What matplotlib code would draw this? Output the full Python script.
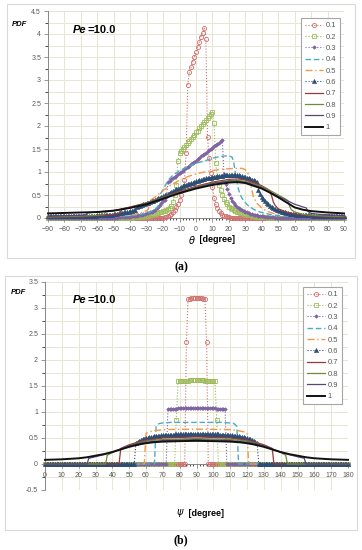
import numpy as np
import matplotlib.pyplot as plt
from matplotlib.patches import Rectangle
from matplotlib.ticker import MultipleLocator, FuncFormatter

plt.rcParams['font.family'] = ['Liberation Sans', 'DejaVu Sans']

labels = ['0.1', '0.2', '0.3', '0.4', '0.5', '0.6', '0.7', '0.8', '0.9', '1']

# ---------------- panel (a): theta ----------------
theta = np.arange(-90, 91, 1)

a01_start = -21
a01 = [0.01, 0.01, 0.02, 0.03, 0.04, 0.06, 0.08, 0.12, 0.17, 0.24, 0.31, 0.4, 0.5, 0.66, 0.83,
       1.42, 2.9, 3.18, 3.28, 3.4, 3.5, 3.6, 3.72, 3.82, 3.94, 4.03, 4.12, 3.9, 1.77, 1.3, 0.97,
       0.68, 0.43, 0.3, 0.21, 0.15, 0.1, 0.07, 0.05, 0.04, 0.03, 0.02, 0.01]

a02_start = -40
a02 = [0.01, 0.01, 0.015, 0.015, 0.02, 0.02, 0.025, 0.03, 0.035, 0.04,
       0.045, 0.05, 0.06, 0.07, 0.08, 0.09, 0.1, 0.11, 0.13, 0.14,
       0.15, 0.16, 0.17, 0.19, 0.22, 0.27, 0.34, 0.5, 0.72, 1.25,
       1.41, 1.45, 1.5, 1.54, 1.59, 1.63, 1.68, 1.72, 1.77, 1.81,
       1.86, 1.9, 1.95, 1.99, 2.04, 2.08, 2.13, 2.17, 2.22, 2.26,
       2.31, 2.06, 1.19, 0.9, 0.72, 0.6, 0.5, 0.42, 0.35, 0.3,
       0.25, 0.22, 0.19, 0.17, 0.15, 0.13, 0.12, 0.11, 0.1, 0.09,
       0.08, 0.07, 0.065, 0.06, 0.05, 0.045, 0.04, 0.03, 0.03, 0.025,
       0.02, 0.02, 0.015, 0.015, 0.01, 0.01]

a03_start = -50
a03 = [0.01, 0.01, 0.01, 0.015, 0.015, 0.02, 0.02, 0.025, 0.025, 0.03, 0.03, 0.035, 0.04,
       0.045, 0.05, 0.06, 0.065, 0.07, 0.08, 0.09, 0.1, 0.11, 0.12, 0.14, 0.16, 0.18, 0.21,
       0.24, 0.28, 0.32, 0.36, 0.4, 0.45,
       0.78, 0.81, 0.84, 0.86, 0.89, 0.92, 0.95, 0.97, 1.0, 1.03, 1.06, 1.09, 1.11, 1.14,
       1.17, 1.2, 1.22, 1.25, 1.28, 1.31, 1.34, 1.36, 1.39, 1.42, 1.45, 1.47, 1.5, 1.53,
       1.56, 1.59, 1.61, 1.64, 1.67, 1.70,
       0.95, 0.75, 0.62, 0.52, 0.44, 0.38, 0.33, 0.28, 0.25, 0.22,
       0.19, 0.17, 0.15, 0.13, 0.12, 0.1, 0.09, 0.08, 0.07, 0.065,
       0.06, 0.05, 0.045, 0.04, 0.035, 0.03, 0.025, 0.02, 0.02, 0.015,
       0.015, 0.01, 0.01, 0.01]

a06 = ([0.04] * 20 + [0.05] * 10 + [0.06] * 5 + [0.07] * 5 +
       [0.08, 0.085, 0.09, 0.1, 0.105, 0.11, 0.12, 0.125, 0.13, 0.14, 0.15, 0.16, 0.17, 0.18] +
       [0.25, 0.26, 0.27, 0.285, 0.3, 0.31, 0.32, 0.335, 0.35, 0.365, 0.38, 0.4, 0.415, 0.43,
        0.445, 0.46, 0.48, 0.5, 0.51, 0.53, 0.55, 0.57, 0.59, 0.6, 0.62, 0.64, 0.66, 0.67,
        0.69, 0.71, 0.72, 0.74, 0.75, 0.76, 0.77, 0.79] +
       [0.8, 0.81, 0.82, 0.83, 0.84, 0.85, 0.86, 0.865, 0.87, 0.88,
        0.89, 0.895, 0.9, 0.905, 0.91, 0.915, 0.92, 0.925, 0.93, 0.93,
        0.93, 0.935, 0.935, 0.935, 0.93, 0.93, 0.925, 0.92, 0.91, 0.9,
        0.89, 0.88, 0.865, 0.85, 0.835, 0.82, 0.8, 0.78] +
       [0.6, 0.52, 0.46, 0.41, 0.37, 0.33, 0.3, 0.27, 0.24, 0.22,
        0.2, 0.18, 0.165, 0.15, 0.14, 0.13, 0.12, 0.11, 0.1, 0.095, 0.09, 0.085, 0.08] +
       [0.075, 0.07, 0.07, 0.065, 0.065] + [0.06] * 5 + [0.05] * 10 + [0.045] * 10)

a04_x = [-90, -80, -70, -60, -50, -45, -40, -35, -30, -28, -26, -24, -23, -22, -20, -18, -16,
         -14, -12, -10, -6, -2, 2, 6, 10, 14, 18, 20, 22, 23, 24, 25, 26, 27, 28, 30, 32, 35,
         38, 42, 47, 55, 65, 80, 90]
a04_y = [0.01, 0.01, 0.015, 0.02, 0.03, 0.04, 0.05, 0.07, 0.1, 0.13, 0.17, 0.22, 0.26, 0.5,
         0.62, 0.75, 0.86, 0.93, 0.98, 1.03, 1.1, 1.16, 1.21, 1.25, 1.3, 1.33, 1.35, 1.35, 1.32,
         1.2, 0.95, 0.75, 0.6, 0.5, 0.43, 0.33, 0.26, 0.19, 0.14, 0.1, 0.065, 0.04, 0.02, 0.01,
         0.01]
a05_x = [-90, -75, -65, -55, -45, -40, -35, -32, -30, -29, -28, -25, -20, -15, -10, -5, 0, 5,
         10, 15, 20, 25, 28, 30, 32, 33, 34, 35, 37, 40, 43, 47, 55, 65, 75, 90]
a05_y = [0.01, 0.02, 0.03, 0.04, 0.05, 0.07, 0.1, 0.13, 0.16, 0.19, 0.38, 0.45, 0.6, 0.72, 0.82,
         0.9, 0.96, 1.0, 1.03, 1.06, 1.07, 1.08, 1.08, 1.05, 0.95, 0.8, 0.6, 0.45, 0.32, 0.22,
         0.15, 0.1, 0.065, 0.04, 0.02, 0.01]
a07_x = [-90, -70, -60, -50, -46, -45, -40, -30, -20, -10, 0, 10, 20, 25, 30, 35, 40, 44, 45,
         46, 47, 48, 50, 55, 60, 70, 80, 90]
a07_y = [0.02, 0.03, 0.05, 0.08, 0.1, 0.2, 0.24, 0.33, 0.45, 0.58, 0.69, 0.78, 0.84, 0.85, 0.83,
         0.78, 0.7, 0.62, 0.58, 0.48, 0.35, 0.28, 0.2, 0.13, 0.09, 0.05, 0.03, 0.02]
a08_x = [-90, -70, -60, -56, -55, -50, -40, -30, -20, -10, 0, 10, 20, 24, 30, 40, 45, 50, 55,
         56, 57, 58, 60, 65, 70, 80, 90]
a08_y = [0.02, 0.04, 0.06, 0.07, 0.13, 0.16, 0.23, 0.32, 0.44, 0.56, 0.67, 0.76, 0.81, 0.82,
         0.8, 0.68, 0.6, 0.5, 0.4, 0.37, 0.25, 0.18, 0.13, 0.08, 0.06, 0.04, 0.03]
a09_x = [-90, -70, -67, -66, -60, -50, -40, -30, -20, -10, 0, 10, 20, 24, 30, 40, 50, 60, 65,
         67, 68, 69, 70, 75, 80, 90]
a09_y = [0.04, 0.06, 0.07, 0.11, 0.13, 0.16, 0.22, 0.31, 0.43, 0.55, 0.66, 0.75, 0.8, 0.8, 0.78,
         0.66, 0.47, 0.3, 0.24, 0.22, 0.15, 0.12, 0.1, 0.08, 0.07, 0.05]
a10_x = [-90, -80, -70, -60, -50, -40, -30, -20, -10, 0, 10, 20, 25, 30, 40, 45, 50, 55, 60,
         65, 70, 80, 90]
a10_y = [0.1, 0.11, 0.12, 0.13, 0.16, 0.22, 0.3, 0.42, 0.54, 0.64, 0.72, 0.77, 0.78, 0.76, 0.64,
         0.55, 0.45, 0.34, 0.23, 0.18, 0.15, 0.12, 0.1]

# ---------------- panel (b): psi ----------------
psi = np.arange(0, 181, 1)

b01_start = 84
b01 = [2.35, 3.17, 3.18, 3.19, 3.19, 3.2, 3.2, 3.2, 3.19, 3.19, 3.18, 3.17, 2.35]
b02_start = 78
b02 = [0.85, 1.59, 1.59, 1.6, 1.6, 1.6, 1.6, 1.6, 1.61, 1.61, 1.61, 1.61, 1.61, 1.61, 1.61,
       1.61, 1.61, 1.6, 1.6, 1.6, 1.6, 1.6, 1.59, 1.59, 0.85]
b03_start = 73
b03 = [1.05] + [1.06] * 5 + [1.07] * 23 + [1.06] * 5 + [1.05]
b06_start = 54
b06 = ([0.40, 0.43, 0.45, 0.46, 0.48, 0.49, 0.50, 0.50, 0.51, 0.52, 0.52, 0.53, 0.53, 0.54,
        0.54, 0.55, 0.55, 0.55, 0.56, 0.56, 0.56, 0.56, 0.56, 0.57, 0.57, 0.57, 0.57, 0.57,
        0.57, 0.57, 0.58, 0.58, 0.58, 0.58, 0.58, 0.58, 0.58] +
       [0.58] * 6 + [0.57] * 7 + [0.56] * 5 + [0.55] * 3 + [0.54, 0.54, 0.53, 0.53, 0.52, 0.52,
        0.51, 0.50, 0.50, 0.49, 0.48, 0.46, 0.45, 0.43, 0.40])

b04_x = [0, 65, 66, 67, 68, 70, 75, 90, 105, 110, 112, 113, 114, 115, 180]
b04_y = [0, 0, 0.72, 0.76, 0.78, 0.79, 0.8, 0.8, 0.8, 0.79, 0.78, 0.76, 0.72, 0, 0]
b05_x = [0, 59, 60, 62, 65, 70, 75, 90, 105, 110, 115, 118, 120, 121, 180]
b05_y = [0, 0, 0.59, 0.62, 0.64, 0.66, 0.665, 0.67, 0.665, 0.66, 0.64, 0.62, 0.59, 0, 0]
b07_x = [0, 44, 45, 50, 55, 60, 65, 70, 80, 90, 100, 110, 115, 120, 125, 130, 135, 136, 180]
b07_y = [0, 0, 0.3, 0.37, 0.42, 0.46, 0.48, 0.5, 0.51, 0.52, 0.51, 0.5, 0.48, 0.46, 0.42, 0.37,
         0.3, 0, 0]
b08_x = [0, 36, 37, 40, 45, 50, 55, 60, 65, 70, 80, 90, 100, 110, 115, 120, 125, 130, 135, 140,
         143, 144, 180]
b08_y = [0, 0, 0.17, 0.22, 0.29, 0.35, 0.4, 0.44, 0.46, 0.47, 0.48, 0.49, 0.48, 0.47, 0.46, 0.44,
         0.4, 0.35, 0.29, 0.22, 0.17, 0, 0]
b09_x = [0, 25, 26, 30, 35, 40, 45, 50, 55, 60, 70, 80, 90, 100, 110, 120, 125, 130, 135, 140,
         145, 150, 154, 155, 180]
b09_y = [0, 0, 0.11, 0.14, 0.18, 0.23, 0.29, 0.35, 0.39, 0.42, 0.45, 0.46, 0.47, 0.46, 0.45, 0.42,
         0.39, 0.35, 0.29, 0.23, 0.18, 0.14, 0.11, 0, 0]
b10_x = [0, 10, 20, 25, 30, 35, 40, 45, 50, 55, 60, 65, 70, 80, 90, 100, 110, 115, 120, 125, 130,
         135, 140, 145, 150, 155, 160, 170, 180]
b10_y = [0.08, 0.09, 0.11, 0.13, 0.16, 0.19, 0.23, 0.28, 0.33, 0.37, 0.4, 0.42, 0.43, 0.44, 0.445,
         0.44, 0.43, 0.42, 0.4, 0.37, 0.33, 0.28, 0.23, 0.19, 0.16, 0.13, 0.11, 0.09, 0.08]


def pad(grid, start, vals):
    y = np.zeros(len(grid))
    i = int(start - grid[0])
    y[i:i + len(vals)] = vals
    return y


colors = ['#cf6f6c', '#9bbb59', '#8064a2', '#4bacc6', '#f79646', '#2c4d75',
          '#943a38', '#6f8a38', '#5a4676', '#111111']
styles = [
    dict(ls=':', lw=0.8, marker='o', ms=3.0, mfc='none', mew=0.6),
    dict(ls=':', lw=0.8, marker='s', ms=2.8, mfc='none', mew=0.6),
    dict(ls=':', lw=0.8, marker='D', ms=1.8, mew=0.5),
    dict(ls=(0, (4, 2)), lw=1.0),
    dict(ls=(0, (5, 2, 1, 2)), lw=1.0),
    dict(ls=':', lw=0.8, marker='^', ms=3.0, mew=0.4),
    dict(ls='-', lw=0.9),
    dict(ls='-', lw=0.9),
    dict(ls='-', lw=0.9),
    dict(ls='-', lw=1.4),
]

W, H = 362, 550
fig = plt.figure(figsize=(W / 100, H / 100), dpi=100)

# panel frames
fig.add_artist(Rectangle((7 / W, 1 - 258 / H), 348 / W, 254 / H, transform=fig.transFigure,
                         fill=False, ec='#d9d9d9', lw=0.8))
fig.add_artist(Rectangle((5 / W, 1 - 530 / H), 352 / W, 254 / H, transform=fig.transFigure,
                         fill=False, ec='#d9d9d9', lw=0.8))

ax1 = fig.add_axes([48 / W, 1 - 218 / H, 296 / W, 207 / H])
ax2 = fig.add_axes([45 / W, 1 - 490 / H, 303 / W, 208 / H])

series_a = [
    (theta, pad(theta, a01_start, a01)),
    (theta, pad(theta, a02_start, a02)),
    (theta, pad(theta, a03_start, a03)),
    (a04_x, a04_y),
    (a05_x, a05_y),
    (theta, a06),
    (a07_x, a07_y),
    (a08_x, a08_y),
    (a09_x, a09_y),
    (a10_x, a10_y),
]
series_b = [
    (psi, pad(psi, b01_start, b01)),
    (psi, pad(psi, b02_start, b02)),
    (psi, pad(psi, b03_start, b03)),
    (b04_x, b04_y),
    (b05_x, b05_y),
    (psi, pad(psi, b06_start, b06)),
    (b07_x, b07_y),
    (b08_x, b08_y),
    (b09_x, b09_y),
    (b10_x, b10_y),
]

fmt = FuncFormatter(lambda v, p: '%g' % round(v, 2))
grid_c = '#e6e6d2'
tick_c = '#595959'

for ax, series in ((ax1, series_a), (ax2, series_b)):
    for k, (x, y) in enumerate(series):
        ax.plot(x, y, color=colors[k], label=labels[k], clip_on=False, zorder=3 + k * 0.1,
                **styles[k])
    ax.yaxis.set_major_locator(MultipleLocator(0.5))
    ax.yaxis.set_minor_locator(MultipleLocator(0.25))
    ax.xaxis.set_major_locator(MultipleLocator(10))
    ax.xaxis.set_minor_locator(MultipleLocator(2))
    ax.yaxis.set_major_formatter(fmt)
    ax.grid(which='major', color=grid_c, lw=0.7, zorder=0)
    ax.grid(which='minor', axis='y', color=grid_c, lw=0.7, zorder=0)
    ax.set_axisbelow(True)
    for s in ('top', 'right'):
        ax.spines[s].set_visible(False)
    ax.spines['left'].set_color('#868686')
    ax.spines['bottom'].set_color('#868686')
    ax.spines['left'].set_linewidth(0.7)
    ax.spines['bottom'].set_linewidth(0.7)
    ax.tick_params(labelsize=5, colors='#868686', labelcolor=tick_c, width=0.6)
    ax.tick_params(axis='y', which='major', length=3, direction='out', pad=2)
    ax.tick_params(axis='y', which='minor', length=2, direction='out', width=0.5)
    ax.tick_params(axis='x', which='major', length=3, direction='out', pad=3)
    ax.tick_params(axis='x', which='minor', length=1.5, direction='out', width=0.5)
    leg = ax.legend(loc='upper left', fontsize=5.5, labelcolor=tick_c, frameon=True,
                    fancybox=False, edgecolor='#a6a6a6', framealpha=1, handlelength=2.4,
                    handletextpad=0.3, labelspacing=0.52, borderpad=0.55,
                    bbox_transform=fig.transFigure,
                    bbox_to_anchor=((297 if ax is ax1 else 299) / W,
                                    1 - (14 if ax is ax1 else 283) / H))
    leg.get_frame().set_linewidth(0.8)
    leg.set_zorder(10)

ax1.set_xlim(-90, 90)
ax1.set_ylim(0, 4.5)
ax2.set_xlim(0, 180)
ax2.set_ylim(-0.5, 3.5)
ax2.spines['bottom'].set_position(('data', 0))

# labels
fig.text(12 / W, 1 - 25 / H, 'PDF', fontsize=5.5, fontweight='bold', fontstyle='italic',
         va='center', ha='left')
fig.text(11 / W, 1 - 293 / H, 'PDF', fontsize=5.5, fontweight='bold', fontstyle='italic',
         va='center', ha='left')

renderer = fig.canvas.get_renderer()
for yy in (30, 300):
    t = fig.text(73 / W, 1 - yy / H, 'Pe', fontsize=8, fontweight='bold', fontstyle='italic',
                 va='center', ha='left')
    bb = t.get_window_extent(renderer)
    fig.text((bb.x1 + 0.5) / W, 1 - yy / H, '=10.0', fontsize=8, fontweight='bold',
             va='center', ha='left')

fig.text(196 / W, 1 - 240 / H, r'$\theta$', fontsize=7, va='center', ha='right')
fig.text(197 / W, 1 - 240 / H, ' [degree]', fontsize=6.5, fontweight='bold', va='center',
         ha='left')
fig.text(180 / W, 1 - 513 / H, r'$\psi$', fontsize=7, va='center', ha='center')
fig.text(186 / W, 1 - 513 / H, ' [degree]', fontsize=6.5, fontweight='bold', va='center',
         ha='left')

fig.text(181 / W, 1 - 267 / H, '(a)', fontsize=8.5, fontweight='bold',
         family='Liberation Serif', va='center', ha='center')
fig.text(181 / W, 1 - 540 / H, '(b)', fontsize=8.5, fontweight='bold',
         family='Liberation Serif', va='center', ha='center')

fig.savefig('out.png', dpi=100)
